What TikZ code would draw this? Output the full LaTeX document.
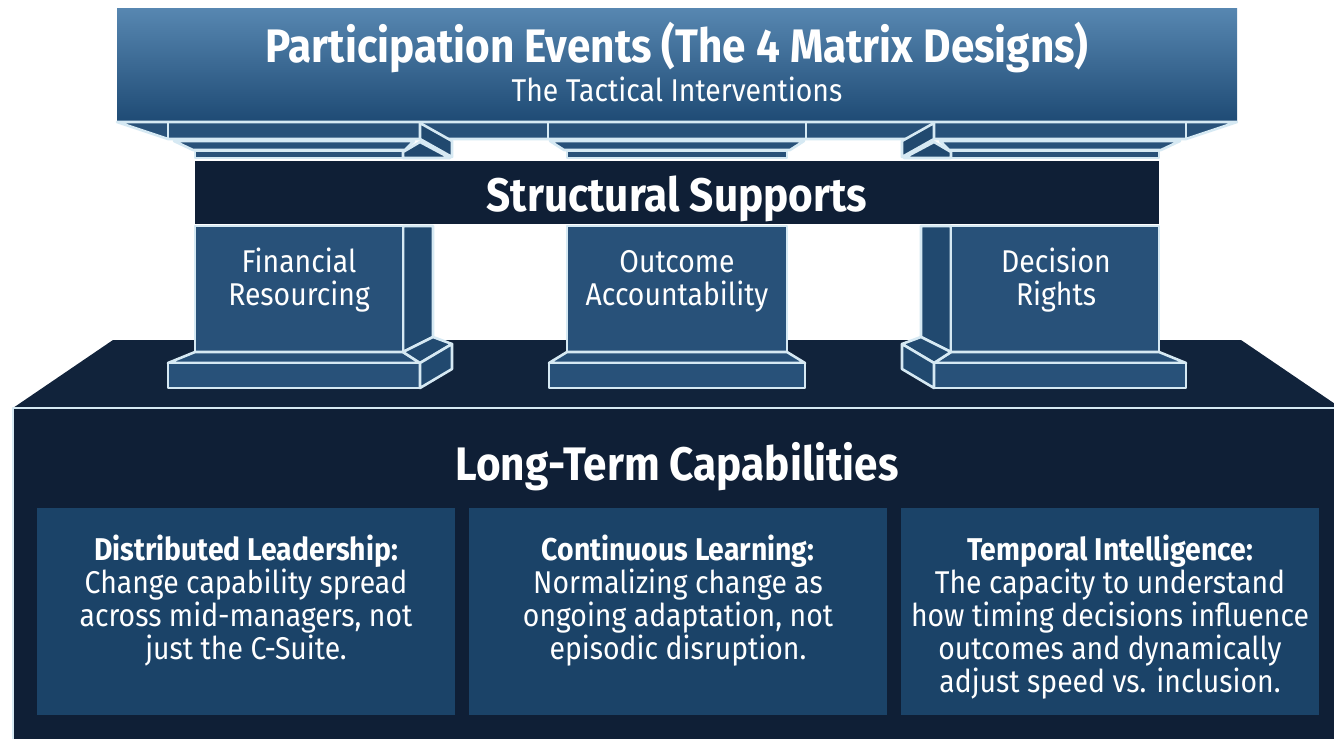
\documentclass[tikz,border=0pt]{standalone}
\usepackage{fontspec}
\setmainfont{Fira Sans}[FakeStretch=0.9]
\usetikzlibrary{positioning}
\definecolor{slabtop}{HTML}{5787B1}
\definecolor{slabbot}{HTML}{1F4B75}
\definecolor{stoneblue}{HTML}{285179}
\definecolor{stonedark}{HTML}{21496F}
\definecolor{navy}{HTML}{0F1F36}
\definecolor{navytop}{HTML}{11233B}
\definecolor{edge}{HTML}{D6E9F3}
\definecolor{panelblue}{HTML}{1B4368}
\tikzset{
  rim/.style={draw=edge, line width=2.6pt, line join=round},
  stoneface/.style={rim, fill=stoneblue},
  stoneside/.style={rim, fill=stonedark},
  pillar/.style={stoneface, minimum height=126pt, inner sep=0pt},
  band/.style={fill=navy, minimum width=964pt, minimum height=63pt, inner sep=0pt},
  panel/.style={fill=panelblue, minimum width=418pt, minimum height=207pt, inner sep=0pt},
  bigtitle/.style={text=white, inner sep=0pt, font=\bfseries\fontsize{47}{52}\selectfont},
  subtitle/.style={text=white, inner sep=0pt, font=\fontsize{31.5}{34}\selectfont},
  pillartext/.style={text=white, align=center, inner sep=0pt, font=\fontsize{31.5}{33}\selectfont},
  paneltext/.style={text=white, align=center, inner sep=0pt, font=\fontsize{31.5}{33}\selectfont}
}

\begin{document}
\begin{tikzpicture}[x=1pt, y=-1pt]
\useasboundingbox (0,0) rectangle (1334,739);
\fill[white] (0,0) rectangle (1334,739);

% foundation block
\fill[navytop] (113,340) -- (1241,340) -- (1341,408) -- (13,408) -- cycle;
\fill[navy] (13,408) rectangle (1341,745);
\draw[rim] (13,745) -- (13,408) -- (1341,408);
\node[panel] (dlbox) at (246,611.5) {};
\node[panel] (clbox) at (678,611.5) {};
\node[panel] (tibox) at (1110,611.5) {};

% beam under the capital
\node[band] (beam) at (677,192.5) {};

% outer pillars, the right one mirrored
\foreach \m/\s in {1/0,-1/1354}{
  \begin{scope}[xshift=\s pt, xscale=\m]
    \draw[stoneside] (403,226) -- (433,226) -- (433,337) -- (403,352) -- cycle;
    \draw[stoneface] (195,226) rectangle (403,352);
    \draw[stoneface] (195,352) -- (403,352) -- (420,363) -- (168,363) -- cycle;
    \draw[stoneface] (168,363) rectangle (420,388);
    \draw[stoneside] (403,352) -- (433,337) -- (452,344) -- (420,363) -- cycle;
    \draw[stoneside] (420,363) -- (452,344) -- (452,369) -- (420,388) -- cycle;
  \end{scope}
}
% middle pillar
\node[pillar, minimum width=220pt] (ocpillar) at (677,289) {};
\draw[stoneface] (567,352) -- (787,352) -- (805,363) -- (549,363) -- cycle;
\draw[stoneface] (549,363) rectangle (805,388);

% entablature
\shade[top color=slabtop, bottom color=slabbot] (117,8) rectangle (1237,121);
\draw[stoneface] (117,122) -- (1237,122) -- (1186,139) -- (168,139) -- cycle;
\foreach \x in {168,548,806,1186}
  \draw[rim] (\x,122) -- (\x,139);
\foreach \m/\s in {1/0,-1/1354}{
  \begin{scope}[xshift=\s pt, xscale=\m]
    \draw[stoneface] (174,141) -- (414,141) -- (405,150) -- (193,150) -- cycle;
    \draw[stoneface] (195,151) rectangle (403,158);
    \draw[stoneside] (420,123) -- (452,141) -- (452,157) -- (420,139) -- cycle;
    \draw[stoneside] (403,158) -- (403,152) -- (420,142) -- (450,158) -- cycle;
  \end{scope}
}
\draw[stoneface] (550,141) -- (804,141) -- (790,150) -- (564,150) -- cycle;
\draw[stoneface] (567,151) rectangle (787,158);

% texts (base = last line)
\node[bigtitle, anchor=base] (events) at (677,62) {Participation Events (The 4 Matrix Designs)};
\node[subtitle, anchor=base] (tactics) at (677,101) {The Tactical Interventions};
\node[bigtitle, anchor=base] (supports) at (677,211) {Structural Supports};
\node[pillartext, anchor=base] (fin) at (299,305) {Financial\\Resourcing};
\node[pillartext, anchor=base] (acc) at (677,305) {Outcome\\Accountability};
\node[pillartext, anchor=base] (dec) at (1056,305) {Decision\\Rights};
\node[bigtitle, anchor=base] (longterm) at (677,480) {Long-Term Capabilities};
\node[paneltext, anchor=base] (dl) at (246,659) {\textbf{Distributed Leadership:}\\Change capability spread\\across mid-managers, not\\just the C-Suite.};
\node[paneltext, anchor=base] (cl) at (678,659) {\textbf{Continuous Learning:}\\Normalizing change as\\ongoing adaptation, not\\episodic disruption.};
\node[paneltext, anchor=base] (ti) at (1110,692) {\textbf{Temporal Intelligence:}\\The capacity to understand\\how timing decisions influence\\outcomes and dynamically\\adjust speed vs. inclusion.};
\end{tikzpicture}
\end{document}
